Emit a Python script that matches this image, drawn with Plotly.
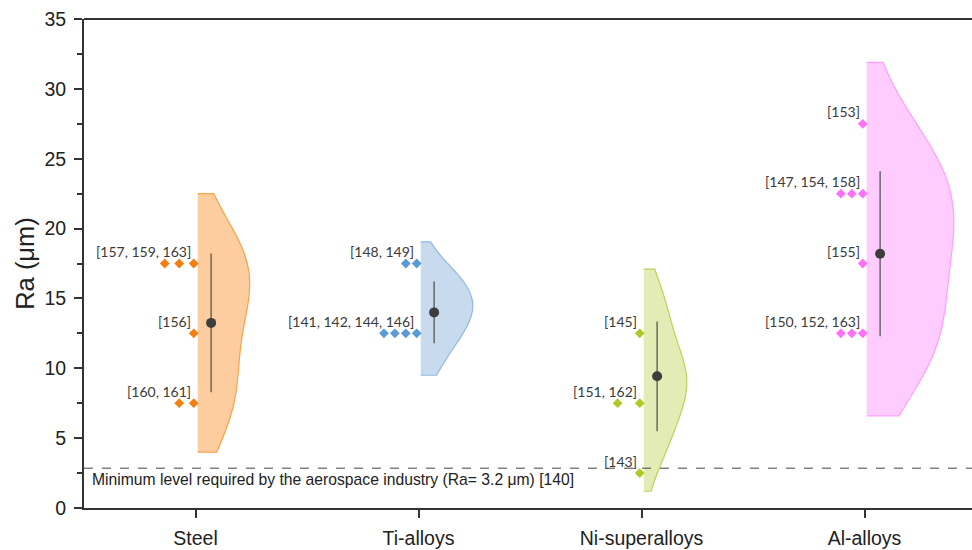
import numpy as np
import plotly.graph_objects as go

# ---------------- data (read / estimated from the reference) ----------------
categories = ["Steel", "Ti-alloys", "Ni-superalloys", "Al-alloys"]

# Ra (µm) reported by each study, and the reference number of that study
steel_ra = [19.0, 17.0, 16.0, 12.5, 8.5, 6.5]
steel_refs = [157, 159, 163, 156, 160, 161]

ti_ra = [16.5, 16.0, 10.5, 12.8, 13.7, 14.5]
ti_refs = [148, 149, 141, 142, 144, 146]

ni_ra = [14.4, 9.0, 9.5, 4.8]
ni_refs = [145, 151, 162, 143]

al_ra = [26.5, 20.5, 22.0, 23.5, 18.0, 11.0, 12.0, 12.1]
al_refs = [153, 147, 154, 158, 155, 150, 152, 163]

# violin extent (µm)
violin_span = [[4.0, 22.5], [9.5, 19.05], [1.2, 17.1], [6.6, 31.9]]

aerospace_min_level = 2.85
aerospace_text = "Minimum level required by the aerospace industry (Ra= 3.2 μm) [140]"

# ---------------- styles ----------------
dot_colors = ["#F57E0F", "#5B9BD5", "#B0C823", "#FF70F8"]
fill_colors = ["#FDCDA0", "#C7DAEE", "#E3ECB4", "#FFCCFF"]
line_colors = ["#F8A24A", "#94B9E0", "#BCD25A", "#FF9EFF"]
bandwidths = [3.4, 1.9, 2.6, 4.6]
violin_widths = [0.466, 0.466, 0.386, 0.78]
dot_gaps = [0.065, 0.049, 0.099, 0.049]

groups = [
    (steel_ra, steel_refs),
    (ti_ra, ti_refs),
    (ni_ra, ni_refs),
    (al_ra, al_refs),
]

fig = go.Figure()

for i, (vals, refs) in enumerate(groups):
    pos = i + 1
    vals = np.asarray(vals, dtype=float)

    # half violin (kernel density computed by plotly)
    fig.add_trace(go.Violin(
        x=[pos + 0.01] * len(vals), y=vals,
        side="positive", points=False,
        box_visible=False, meanline_visible=False,
        spanmode="manual", span=violin_span[i],
        bandwidth=bandwidths[i], width=violin_widths[i], scalemode="width",
        fillcolor=fill_colors[i], line=dict(color=line_colors[i], width=1.2),
        opacity=1, hoverinfo="skip", showlegend=False,
    ))

    # dot plot: one diamond per study, binned into 5 µm classes, stacked leftwards
    bins = np.floor(vals / 5.0) * 5.0 + 2.5
    for level in sorted(set(bins), reverse=True):
        idx = [k for k in range(len(vals)) if bins[k] == level]
        xs = [pos - 0.008 - k * dot_gaps[i] for k in range(len(idx))]
        fig.add_trace(go.Scatter(
            x=xs, y=[level] * len(idx), mode="markers",
            marker=dict(symbol="diamond", size=7.5, color=dot_colors[i], line=dict(width=0)),
            hoverinfo="skip", showlegend=False,
        ))
        label = "[" + ", ".join(str(r) for r in sorted(refs[k] for k in idx)) + "]"
        fig.add_annotation(
            x=pos, y=level, xref="x", yref="y", text=label, showarrow=False,
            xanchor="right", yanchor="middle", xshift=-3, yshift=12,
            font=dict(family="Lato, Open Sans, sans-serif", size=14, color="#3a3a3a"),
        )

    # mean ± standard deviation
    mean = vals.mean()
    sd = vals.std(ddof=1)
    fig.add_trace(go.Scatter(
        x=[pos + 0.07], y=[mean], mode="markers",
        marker=dict(symbol="circle", size=10, color="#3d3d3d"),
        error_y=dict(type="data", array=[sd], visible=True, width=0,
                     thickness=1.3, color="#555555"),
        hoverinfo="skip", showlegend=False,
    ))

# aerospace minimum level
fig.add_shape(type="line", xref="paper", yref="y", x0=0, x1=1,
              y0=aerospace_min_level, y1=aerospace_min_level,
              line=dict(color="#444444", width=1, dash="dash"))
fig.add_annotation(
    x=0, y=aerospace_min_level, xref="paper", yref="y", text=aerospace_text,
    showarrow=False, xanchor="left", yanchor="top", xshift=6, yshift=-1,
    font=dict(family="Liberation Sans, Arial, sans-serif", size=15.7, color="#222222"),
)

# top frame line (no right frame visible in the reference)
fig.add_shape(type="line", xref="paper", yref="paper", x0=0, x1=1, y0=1, y1=1,
              line=dict(color="#333333", width=2))

axis_font = dict(family="Liberation Sans, Arial, sans-serif", size=19.5, color="#222222")

fig.update_layout(
    width=972, height=550,
    margin=dict(l=84, r=0, t=19, b=42),
    paper_bgcolor="white", plot_bgcolor="white",
    violinmode="overlay",
    xaxis=dict(
        range=[0.5, 0.5 + 888 / 223], tickmode="array",
        tickvals=[1, 2, 3, 4], ticktext=categories,
        ticks="outside", ticklen=8, tickwidth=1.5, tickcolor="#333333",
        showline=True, linewidth=2, linecolor="#333333",
        showgrid=False, zeroline=False, tickfont=axis_font,
        ticklabelstandoff=4, automargin=False,
    ),
    yaxis=dict(
        range=[0, 35], dtick=5, tick0=0,
        ticks="outside", ticklen=8, tickwidth=1.5, tickcolor="#333333",
        minor=dict(dtick=2.5, ticks="outside", ticklen=5, tickwidth=1.5, tickcolor="#333333"),
        showline=True, linewidth=2, linecolor="#333333",
        showgrid=False, zeroline=False, tickfont=axis_font,
        ticklabelstandoff=4, automargin=False,
        title=dict(text="Ra (μm)", font=dict(family="Liberation Sans, Arial, sans-serif",
                                             size=25.5, color="#222222"), standoff=2),
    ),
)

fig.write_html("out.html", config={"displayModeBar": False},
               post_script="document.body.style.margin='0';")
